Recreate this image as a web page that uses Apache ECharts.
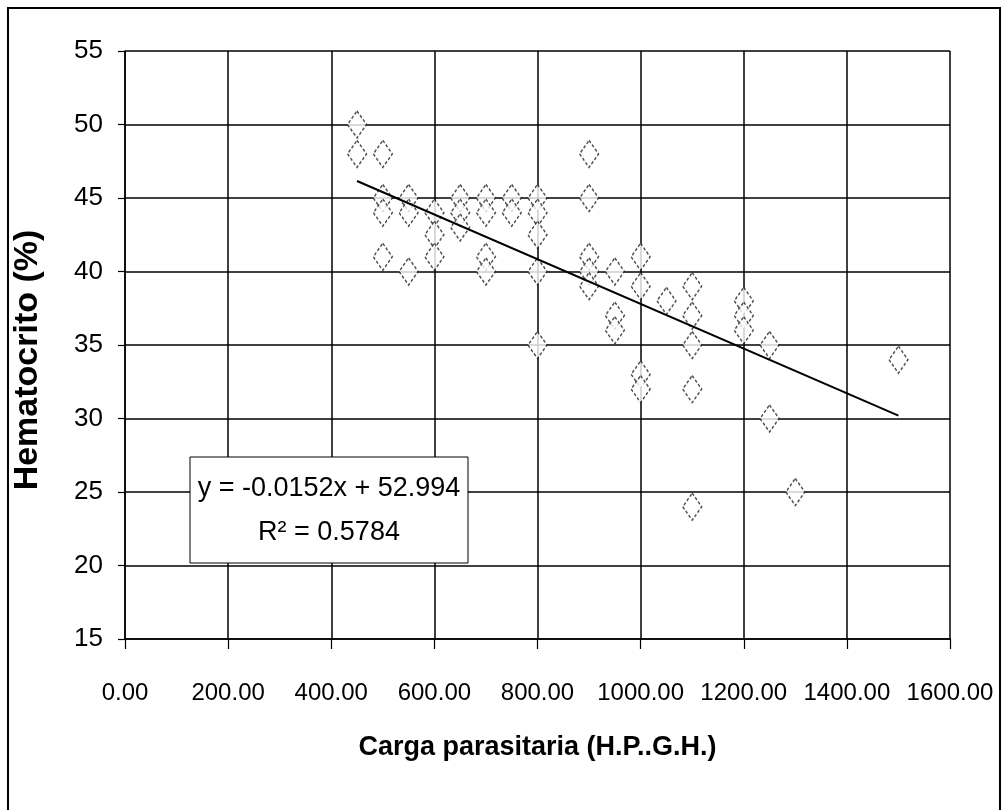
<!DOCTYPE html>
<html>
<head>
<meta charset="utf-8">
<script src="https://cdn.jsdelivr.net/npm/echarts@6/dist/echarts.min.js"></script>
<style>
  html, body { margin: 0; padding: 0; background: #fff; }
  #chartDIV { width: 1008px; height: 810px; }
</style>
</head>
<body>
<div id="chartDIV"></div>
<script>
// datos: carga parasitaria (x) y hematocrito (y)
var cargaX = [450, 450, 500, 500, 500, 500, 550, 550, 550, 600, 600, 600, 650, 650, 650,
              700, 700, 700, 700, 750, 750, 800, 800, 800, 800, 800, 900, 900, 900, 900, 900,
              950, 950, 950, 1000, 1000, 1000, 1000, 1050, 1100, 1100, 1100, 1100, 1100,
              1200, 1200, 1200, 1250, 1250, 1300, 1500];
var hematoY = [50, 48, 48, 45, 44, 41, 45, 44, 40, 44, 42.5, 41, 45, 44, 43,
               45, 44, 41, 40, 45, 44, 45, 44, 42.5, 40, 35, 48, 45, 41, 40, 39,
               40, 37, 36, 41, 39, 33, 32, 38, 39, 37, 35, 32, 24,
               38, 37, 36, 35, 30, 25, 34];
var xTicks = [0, 200, 400, 600, 800, 1000, 1200, 1400, 1600];
var yTicks = [15, 20, 25, 30, 35, 40, 45, 50, 55];
// linea de tendencia (Excel)
var pendiente = -0.0152;
var intercepto = 52.994;
var rango = [450, 1500];
var ecuacion = 'y = -0.0152x + 52.994';
var r2 = 'R² = 0.5784';

var puntos = cargaX.map(function (x, i) { return [x, hematoY[i]]; });
var tendencia = rango.map(function (x) { return [x, pendiente * x + intercepto]; });

var myChart = echarts.init(document.getElementById('chartDIV'));
var fuente = '"Liberation Sans", Arial, sans-serif';

var option = {
    backgroundColor: '#fff',
    animation: false,
    grid: {
        left: 125,
        right: 58,
        top: 51,
        bottom: 171
    },
    xAxis: {
        type: 'value',
        min: xTicks[0],
        max: xTicks[xTicks.length - 1],
        interval: 200,
        name: 'Carga parasitaria (H.P..G.H.)',
        nameLocation: 'middle',
        nameGap: 95,
        nameTextStyle: { fontFamily: fuente, fontWeight: 'bold', fontSize: 27, color: '#000' },
        axisLine: { onZero: false, lineStyle: { color: '#000', width: 1.5 } },
        axisTick: { show: true, length: 10, inside: false, lineStyle: { color: '#000', width: 1.2 } },
        axisLabel: {
            margin: 42,
            fontFamily: fuente,
            fontSize: 24,
            color: '#000',
            formatter: function (v) { return v.toFixed(2); }
        },
        splitLine: { show: true, lineStyle: { color: '#000', width: 1.5 } }
    },
    yAxis: {
        type: 'value',
        min: yTicks[0],
        max: yTicks[yTicks.length - 1],
        interval: 5,
        name: 'Hematocrito (%)',
        nameLocation: 'middle',
        nameGap: 80,
        nameTextStyle: {
            fontFamily: fuente, fontWeight: 'bold', fontSize: 34, color: '#000',
            padding: [0, 30, 0, 0]
        },
        axisLine: { show: true, lineStyle: { color: '#000', width: 1.5 } },
        axisTick: { show: true, length: 7, lineStyle: { color: '#000', width: 1.2 } },
        axisLabel: { margin: 22, fontFamily: fuente, fontSize: 26, color: '#000' },
        splitLine: { show: true, lineStyle: { color: '#000', width: 1.5 } }
    },
    series: [
        {
            name: 'Hematocrito',
            type: 'scatter',
            data: puntos,
            symbol: 'diamond',
            symbolSize: [19, 27],
            itemStyle: {
                color: '#fff',
                borderColor: '#222',
                borderWidth: 1.5,
                borderType: [3, 2]
            },
            z: 3
        },
        {
            name: 'Lineal',
            type: 'line',
            data: tendencia,
            symbol: 'none',
            lineStyle: { color: '#000', width: 2 },
            z: 4
        }
    ],
    graphic: [
        {
            type: 'rect',
            shape: { x: 8, y: 8, width: 992, height: 820 },
            style: { fill: 'none', stroke: '#000', lineWidth: 2 },
            silent: true
        },
        {
            type: 'rect',
            shape: { x: 190, y: 457, width: 278, height: 106 },
            style: { fill: '#fff', stroke: '#000', lineWidth: 1 },
            z: 10
        },
        {
            type: 'text',
            x: 329, y: 489,
            style: {
                text: ecuacion,
                fontFamily: fuente, fontSize: 27, fill: '#000',
                align: 'center', verticalAlign: 'middle'
            },
            z: 11
        },
        {
            type: 'text',
            x: 329, y: 533,
            style: {
                text: r2,
                fontFamily: fuente, fontSize: 27, fill: '#000',
                align: 'center', verticalAlign: 'middle'
            },
            z: 11
        }
    ]
};

myChart.setOption(option);
</script>
</body>
</html>
